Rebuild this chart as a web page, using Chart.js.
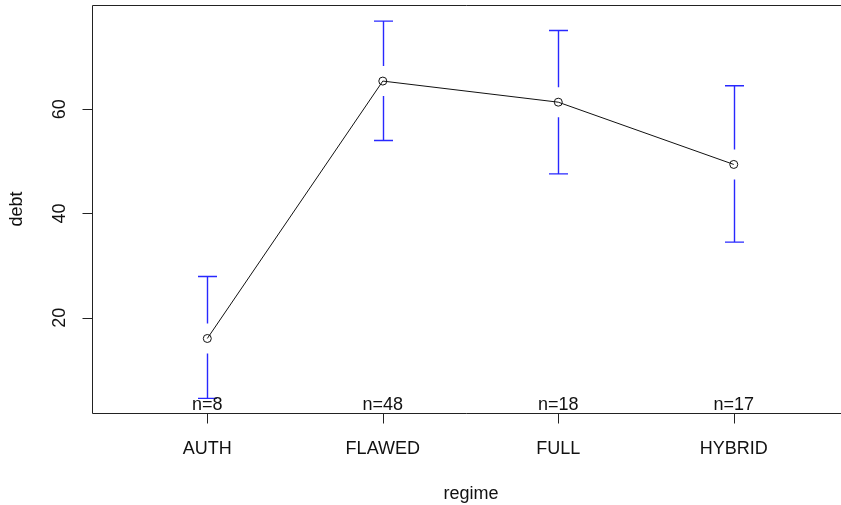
<!DOCTYPE html>
<html>
<head>
<meta charset="utf-8">
<script src="https://cdn.jsdelivr.net/npm/chart.js@4.4.1/dist/chart.umd.min.js"></script>
<style>
html,body{margin:0;padding:0;background:#fff;}
#wrap{width:841px;height:505px;}
</style>
</head>
<body>
<div id="wrap"><canvas id="c" width="841" height="505"></canvas></div>
<script>
const categories = ['AUTH', 'FLAWED', 'FULL', 'HYBRID'];
const means = [16.0, 65.4, 61.35, 49.4];
const upper = [27.9, 76.9, 75.1, 64.5];
const lower = [4.5, 54.0, 47.6, 34.5];
const counts = [8, 48, 18, 17];
const yTicks = [20, 40, 60];
const xTitle = 'regime';
const yTitle = 'debt';

const FONT = '"Liberation Sans", Arial, sans-serif';

const rPlot = {
  id: 'rPlot',
  afterDatasetsDraw(chart) {
    const ctx = chart.ctx;
    const xs = chart.scales.x, ys = chart.scales.y;
    const a = chart.chartArea;
    ctx.save();
    // error bars
    ctx.strokeStyle = 'rgb(40,40,255)';
    ctx.lineWidth = 1.4;
    const gap = 15, cap = 9.5;
    for (let i = 0; i < categories.length; i++) {
      const x = Math.round(xs.getPixelForValue(i + 1)) + 0.5;
      const yt = ys.getPixelForValue(upper[i]);
      const yb = ys.getPixelForValue(lower[i]);
      const ym = ys.getPixelForValue(means[i]);
      ctx.beginPath();
      ctx.moveTo(x, yt); ctx.lineTo(x, ym - gap);
      ctx.moveTo(x, ym + gap); ctx.lineTo(x, yb);
      ctx.moveTo(x - cap, yt); ctx.lineTo(x + cap, yt);
      ctx.moveTo(x - cap, yb); ctx.lineTo(x + cap, yb);
      ctx.stroke();
    }
    // box (right side cropped)
    ctx.strokeStyle = '#222';
    ctx.lineWidth = 1;
    ctx.beginPath();
    ctx.moveTo(841, a.top + 0.5);
    ctx.lineTo(a.left + 0.5, a.top + 0.5);
    ctx.lineTo(a.left + 0.5, a.bottom + 0.5);
    ctx.lineTo(841, a.bottom + 0.5);
    ctx.stroke();
    // x ticks
    ctx.beginPath();
    for (let i = 0; i < categories.length; i++) {
      const x = Math.round(xs.getPixelForValue(i + 1)) + 0.5;
      ctx.moveTo(x, a.bottom + 0.5); ctx.lineTo(x, a.bottom + 10.5);
    }
    // y ticks
    yTicks.forEach(v => {
      const y = Math.round(ys.getPixelForValue(v)) + 0.5;
      ctx.moveTo(a.left + 0.5, y); ctx.lineTo(a.left - 9.5, y);
    });
    ctx.stroke();
    // texts
    ctx.fillStyle = '#111';
    ctx.font = '18px ' + FONT;
    ctx.textAlign = 'center';
    ctx.textBaseline = 'alphabetic';
    for (let i = 0; i < categories.length; i++) {
      const x = xs.getPixelForValue(i + 1);
      ctx.fillText(categories[i], x, 454);
      ctx.fillText('n=' + counts[i], x, 410);
    }
    ctx.fillText(xTitle, (xs.getPixelForValue(2) + xs.getPixelForValue(3)) / 2 + 0.5, 499);
    yTicks.forEach(v => {
      const y = ys.getPixelForValue(v);
      ctx.save();
      ctx.translate(65, y);
      ctx.rotate(-Math.PI / 2);
      ctx.fillText(String(v), 0, 0);
      ctx.restore();
    });
    ctx.save();
    ctx.translate(22, (a.top + a.bottom) / 2);
    ctx.rotate(-Math.PI / 2);
    ctx.fillText(yTitle, 0, 0);
    ctx.restore();
    ctx.restore();
  }
};

new Chart(document.getElementById('c'), {
  type: 'line',
  data: {
    datasets: [{
      data: means.map((m, i) => ({ x: i + 1, y: m })),
      borderColor: '#111',
      borderWidth: 1,
      tension: 0,
      fill: false,
      pointRadius: 4,
      pointHoverRadius: 4,
      pointBorderWidth: 1,
      pointBorderColor: '#111',
      pointBackgroundColor: 'rgba(0,0,0,0)'
    }]
  },
  options: {
    responsive: false,
    animation: false,
    devicePixelRatio: 1,
    layout: { autoPadding: false, padding: { left: 92, top: 5, right: 0, bottom: 92 } },
    plugins: { legend: { display: false }, tooltip: { enabled: false } },
    scales: {
      x: { type: 'linear', display: false, min: 0.343, max: 4.611 },
      y: { type: 'linear', display: false, min: 1.7, max: 80.0 }
    }
  },
  plugins: [rPlot]
});
</script>
</body>
</html>
